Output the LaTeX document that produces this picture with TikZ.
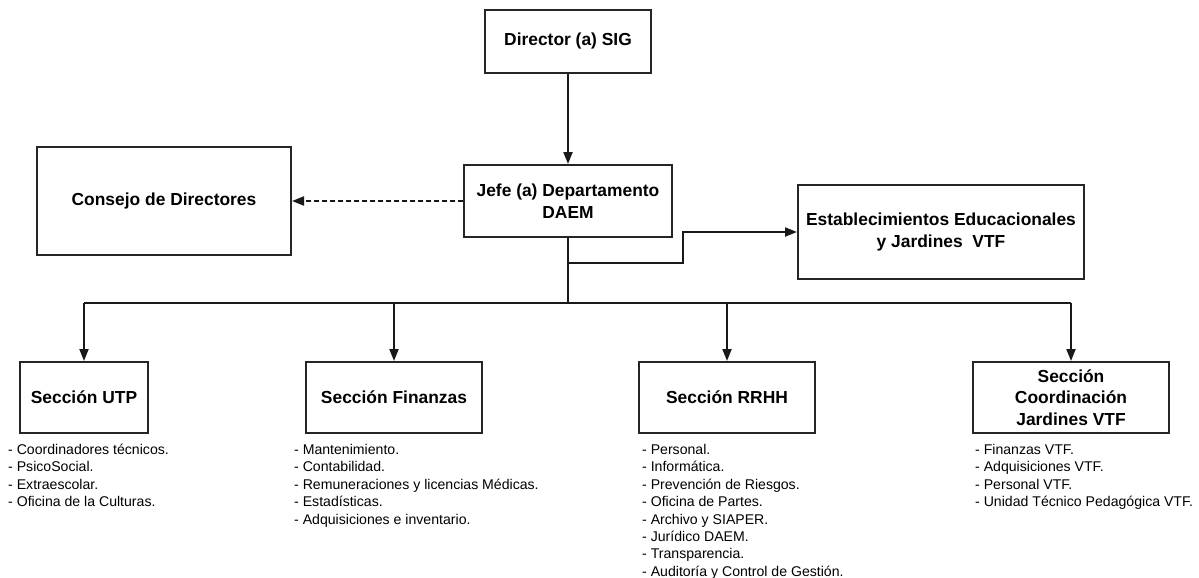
\documentclass[tikz,border=0pt]{standalone}
\usepackage{fontspec}
\setmainfont{Liberation Sans}
\usetikzlibrary{arrows.meta}
\begin{document}
\begin{tikzpicture}[x=1pt,y=-1pt,
  box/.style={draw=black!85,line width=2pt,inner sep=0pt,align=center,font=\fontsize{17.4}{21.5}\selectfont\bfseries},
  conn/.style={line width=2pt,draw=black!90},
  arr/.style={conn,-{Triangle[length=12pt,width=9pt]}},
  items/.style={anchor=north west,inner sep=0pt,align=left,font=\fontsize{14.1}{17.4}\selectfont}]
\useasboundingbox (0,0) rectangle (1199,578);
\node[box,minimum width=166pt,minimum height=63pt] (dir) at (568,41.5) {Director (a) SIG};
\node[box,minimum width=254pt,minimum height=108pt] (con) at (164,201) {Consejo de Directores};
\node[box,minimum width=208pt,minimum height=72pt] (jefe) at (568,201) {Jefe (a) Departamento\\DAEM};
\node[box,minimum width=286pt,minimum height=94pt] (est) at (941,232) {Establecimientos Educacionales\\y Jardines\ \ VTF};
\node[box,minimum width=128pt,minimum height=71pt] (utp) at (84,397.5) {Sección UTP};
\node[box,minimum width=176pt,minimum height=71pt] (fin) at (394,397.5) {Sección Finanzas};
\node[box,minimum width=176pt,minimum height=71pt] (rrhh) at (727,397.5) {Sección RRHH};
\node[box,minimum width=196pt,minimum height=71pt] (coord) at (1071,397.5) {Sección\\Coordinación\\Jardines VTF};

\coordinate (branch) at (568,263);
\coordinate (trunk) at (568,303);
\coordinate (elb1) at (683,263);
\coordinate (elb2) at (683,232);
\coordinate (busL) at (84,303);
\coordinate (busR) at (1071,303);
\coordinate (busF) at (394,303);
\coordinate (busH) at (727,303);

\draw[arr] (dir) -- (jefe);
\draw[arr,dash pattern=on 5pt off 3pt] (jefe) -- (con);
\draw[conn] (jefe.south) -- (trunk);
\draw[arr] (branch) -- (elb1) -- (elb2) -- (est.west);
\draw[conn] (busL) -- (busR);
\draw[arr] (busL) -- (utp);
\draw[arr] (busF) -- (fin);
\draw[arr] (busH) -- (rrhh);
\draw[arr] (busR) -- (coord);

\node[items] (lutp) at (8,444) {- Coordinadores técnicos.\\- PsicoSocial.\\- Extraescolar.\\- Oficina de la Culturas.};
\node[items] (lfin) at (294,444) {- Mantenimiento.\\- Contabilidad.\\- Remuneraciones y licencias Médicas.\\- Estadísticas.\\- Adquisiciones e inventario.};
\node[items] (lrrhh) at (642,444) {- Personal.\\- Informática.\\- Prevención de Riesgos.\\- Oficina de Partes.\\- Archivo y SIAPER.\\- Jurídico DAEM.\\- Transparencia.\\- Auditoría y Control de Gestión.};
\node[items] (lcoord) at (975,444) {- Finanzas VTF.\\- Adquisiciones VTF.\\- Personal VTF.\\- Unidad Técnico Pedagógica VTF.};
\end{tikzpicture}
\end{document}
